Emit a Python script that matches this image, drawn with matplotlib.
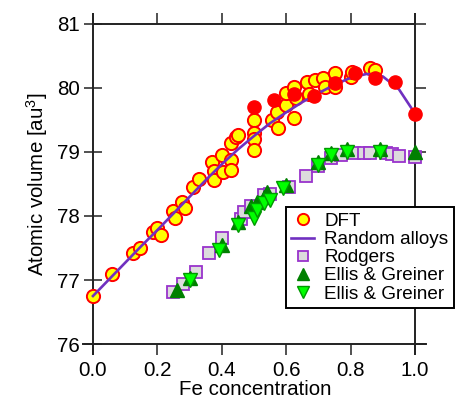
import matplotlib
matplotlib.use('Agg')
import matplotlib.pyplot as plt

plt.rcParams['font.family'] = ['Liberation Sans', 'DejaVu Sans']
plt.rcParams['mathtext.default'] = 'regular'

# DFT (yellow circles)
dft_x = [0.0, 0.06, 0.125, 0.145, 0.185, 0.2, 0.21, 0.25, 0.255, 0.275, 0.285,
         0.31, 0.33, 0.37, 0.375, 0.375, 0.4, 0.405, 0.43, 0.43, 0.43, 0.445, 0.45,
         0.5, 0.5, 0.5, 0.5, 0.555, 0.57, 0.575, 0.6, 0.6, 0.625, 0.625, 0.63,
         0.665, 0.67, 0.69, 0.715, 0.72, 0.75, 0.75, 0.8, 0.805, 0.86, 0.875]
dft_y = [76.75, 77.1, 77.42, 77.5, 77.75, 77.82, 77.7, 78.08, 77.97, 78.22, 78.12,
         78.45, 78.58, 78.85, 78.7, 78.56, 78.95, 78.68, 78.88, 78.72, 79.14, 79.23, 79.27,
         79.5, 79.3, 79.2, 79.03, 79.5, 79.62, 79.37, 79.73, 79.92, 80.02, 79.53, 79.85,
         80.1, 79.9, 80.12, 80.16, 80.02, 80.23, 80.02, 80.17, 80.25, 80.31, 80.28]

# ordered structures (red filled circles)
ord_x = [0.5, 0.5625, 0.625, 0.6875, 0.75, 0.8125, 0.875, 0.9375, 1.0]
ord_y = [79.7, 79.82, 79.9, 79.87, 80.08, 80.23, 80.16, 80.1, 79.6]

# random alloys
rnd_x = [0, .05, .1, .15, .2, .25, .3, .35, .4, .45, .5, .55, .6, .65, .7,
         .75, .8, .85, .9, .95, 1.0]
rnd_y = [76.75, 77.01, 77.27, 77.53, 77.78, 78.04, 78.3, 78.56, 78.81, 79.04,
         79.25, 79.45, 79.62, 79.78, 79.92, 80.05, 80.16, 80.22, 80.18, 79.98, 79.6]

# Rodgers
rod_x = [0.25, 0.28, 0.32, 0.36, 0.40, 0.46, 0.47, 0.49, 0.53, 0.55, 0.61, 0.66,
         0.70, 0.74, 0.77, 0.81, 0.84, 0.86, 0.91, 0.93, 0.95, 1.0]
rod_y = [76.82, 76.93, 77.13, 77.42, 77.66, 77.95, 78.06, 78.15, 78.33, 78.35,
         78.45, 78.62, 78.78, 78.9, 78.95, 78.98, 78.99, 78.99, 78.98, 78.97, 78.94, 78.92]

# Ellis & Greiner
eg1_x = [0.26, 0.30, 0.40, 0.45, 0.49, 0.51, 0.53, 0.54, 0.60, 0.70, 0.74, 0.79, 0.89, 1.0]
eg1_y = [76.85, 77.03, 77.55, 77.9, 78.15, 78.22, 78.3, 78.38, 78.48, 78.85, 78.98,
         79.05, 79.05, 79.0]
eg2_x = [0.30, 0.39, 0.45, 0.50, 0.51, 0.53, 0.55, 0.59, 0.70, 0.74, 0.79, 0.89]
eg2_y = [77.0, 77.47, 77.86, 77.97, 78.09, 78.2, 78.25, 78.44, 78.8, 78.95, 79.0, 79.0]

fig = plt.figure(figsize=(4.56, 4.01), dpi=100)
ax = fig.add_axes([0.1827, 0.1182, 0.7522, 0.8459])

ax.plot(dft_x, dft_y, 'o', ms=9.5, mfc='#ffff00', mec='#ff0000', mew=1.4,
        label='DFT', zorder=3, clip_on=False)
ax.plot(rnd_x, rnd_y, '-', color='#7030c0', lw=1.9, label='Random alloys', zorder=4)
ax.plot(ord_x, ord_y, 'o', ms=9.5, mfc='#ff0000', mec='#ff0000', mew=1.0,
        zorder=5, clip_on=False)
ax.plot(rod_x, rod_y, 's', ms=8.5, mfc='#dcdcdc', mec='#9933cc', mew=1.3,
        label='Rodgers', zorder=3, clip_on=False)
ax.plot(eg1_x, eg1_y, '^', ms=9.5, mfc='#008000', mec='#008000', mew=1.0,
        label='Ellis & Greiner', zorder=4, clip_on=False)
ax.plot(eg2_x, eg2_y, 'v', ms=9.5, mfc='#00ff00', mec='#009900', mew=1.0,
        label='Ellis & Greiner', zorder=4, clip_on=False)

ax.set_xlim(-0.03, 1.035)
ax.set_ylim(75.85, 81.15)

ax.spines['left'].set_position(('data', 0.0))
ax.spines['right'].set_position(('data', 1.0))
ax.spines['bottom'].set_position(('data', 76.0))
ax.spines['top'].set_position(('data', 81.0))
ax.spines['top'].set_bounds(0.0, 1.0)
for s in ax.spines.values():
    s.set_linewidth(1.4)
    s.set_color('#222222')

ax.set_xticks([0.0, 0.2, 0.4, 0.6, 0.8, 1.0])
ax.set_yticks([76, 77, 78, 79, 80, 81])
ax.set_xticklabels(['0.0', '0.2', '0.4', '0.6', '0.8', '1.0'])
ax.tick_params(axis='x', direction='out', length=8, width=1.1,
               top=True, bottom=True, labelsize=14.8, pad=4, color='#222222')
ax.tick_params(axis='y', direction='inout', length=13, width=1.1,
               right=True, left=True, labelsize=14.8, pad=3, color='#222222')
for t in ax.yaxis.get_major_ticks():
    t.tick2line.set_markersize(8)
    t.tick2line.set_marker(matplotlib.lines.TICKRIGHT)

ax.set_xlabel('Fe concentration', fontsize=14.8, labelpad=0.5)
ax.set_ylabel('Atomic volume [au$^3$]', fontsize=14.8, labelpad=5)

leg = ax.legend(loc='upper left', bbox_to_anchor=(0.59, 0.432), fontsize=13.6,
                frameon=True, fancybox=False, edgecolor='black', framealpha=1,
                labelspacing=0.05, handlelength=1.2, handletextpad=0.55,
                borderpad=0.3, borderaxespad=0, markerscale=0.85)
leg.get_frame().set_linewidth(1.4)
leg.set_zorder(10)

fig.savefig('out.png', dpi=100)
